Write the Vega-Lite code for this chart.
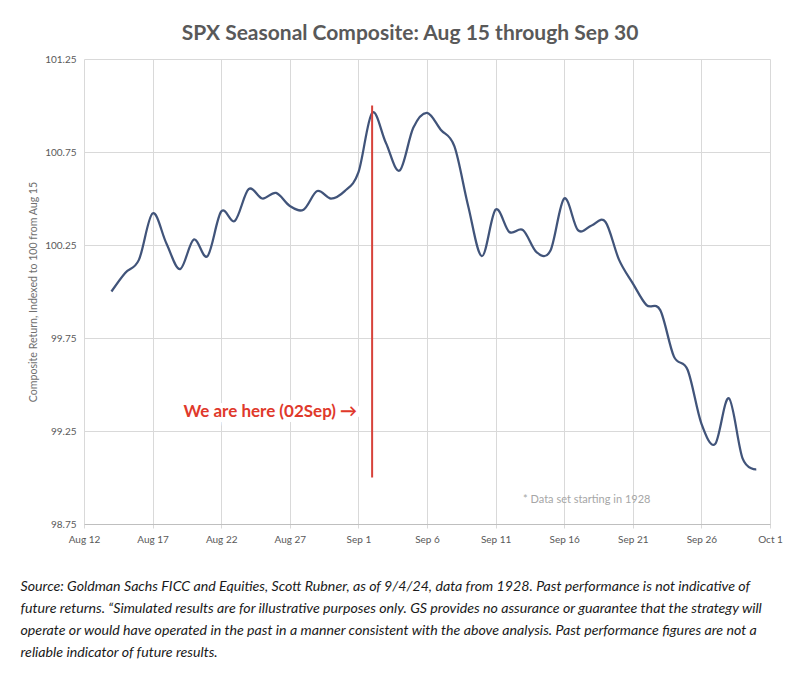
{
  "$schema": "https://vega.github.io/schema/vega-lite/v6.json",
  "width": 686,
  "height": 465,
  "autosize": {"type": "none"},
  "padding": {"left": 84, "top": 59, "right": 30, "bottom": 152},
  "background": "white",
  "config": {"view": {"stroke": null}, "font": "Lato"},
  "title": {
    "text": "SPX Seasonal Composite: Aug 15 through Sep 30",
    "fontSize": 21,
    "fontWeight": "bold",
    "color": "#595959",
    "font": "Lato",
    "anchor": "middle",
    "dx": -17,
    "offset": 10
  },
  "datasets": {
    "series": [
      {"date": "2024-08-14", "value": 100.00},
      {"date": "2024-08-15", "value": 100.10},
      {"date": "2024-08-16", "value": 100.17},
      {"date": "2024-08-17", "value": 100.42},
      {"date": "2024-08-18", "value": 100.26},
      {"date": "2024-08-19", "value": 100.12},
      {"date": "2024-08-20", "value": 100.28},
      {"date": "2024-08-21", "value": 100.19},
      {"date": "2024-08-22", "value": 100.43},
      {"date": "2024-08-23", "value": 100.38},
      {"date": "2024-08-24", "value": 100.55},
      {"date": "2024-08-25", "value": 100.50},
      {"date": "2024-08-26", "value": 100.53},
      {"date": "2024-08-27", "value": 100.46},
      {"date": "2024-08-28", "value": 100.44},
      {"date": "2024-08-29", "value": 100.54},
      {"date": "2024-08-30", "value": 100.50},
      {"date": "2024-08-31", "value": 100.54},
      {"date": "2024-09-01", "value": 100.64},
      {"date": "2024-09-02", "value": 100.96},
      {"date": "2024-09-03", "value": 100.80},
      {"date": "2024-09-04", "value": 100.65},
      {"date": "2024-09-05", "value": 100.88},
      {"date": "2024-09-06", "value": 100.96},
      {"date": "2024-09-07", "value": 100.87},
      {"date": "2024-09-08", "value": 100.78},
      {"date": "2024-09-09", "value": 100.46},
      {"date": "2024-09-10", "value": 100.19},
      {"date": "2024-09-11", "value": 100.44},
      {"date": "2024-09-12", "value": 100.32},
      {"date": "2024-09-13", "value": 100.33},
      {"date": "2024-09-14", "value": 100.21},
      {"date": "2024-09-15", "value": 100.22},
      {"date": "2024-09-16", "value": 100.50},
      {"date": "2024-09-17", "value": 100.33},
      {"date": "2024-09-18", "value": 100.355},
      {"date": "2024-09-19", "value": 100.375},
      {"date": "2024-09-20", "value": 100.17},
      {"date": "2024-09-21", "value": 100.044},
      {"date": "2024-09-22", "value": 99.927},
      {"date": "2024-09-23", "value": 99.90},
      {"date": "2024-09-24", "value": 99.65},
      {"date": "2024-09-25", "value": 99.578},
      {"date": "2024-09-26", "value": 99.29},
      {"date": "2024-09-27", "value": 99.18},
      {"date": "2024-09-28", "value": 99.426},
      {"date": "2024-09-29", "value": 99.103},
      {"date": "2024-09-30", "value": 99.044}
    ],
    "marker": [
      {"date": "2024-09-02", "low": 99.0, "high": 101.0, "label": "We are here (02Sep) →", "labelValue": 99.352}
    ],
    "note": [
      {"date": "2024-09-13", "value": 98.88, "label": "* Data set starting in 1928"}
    ]
  },
  "layer": [
    {
      "data": {"name": "series"},
      "mark": {"type": "line", "interpolate": "cardinal", "color": "#41547A", "strokeWidth": 2.25},
      "encoding": {
        "x": {
          "field": "date",
          "type": "temporal",
          "scale": {"type": "utc", "domain": [{"year": 2024, "month": 8, "date": 12, "utc": true}, {"year": 2024, "month": 10, "date": 1, "utc": true}]},
          "axis": {
            "values": [
              {"year": 2024, "month": 8, "date": 12, "utc": true},
              {"year": 2024, "month": 8, "date": 17, "utc": true},
              {"year": 2024, "month": 8, "date": 22, "utc": true},
              {"year": 2024, "month": 8, "date": 27, "utc": true},
              {"year": 2024, "month": 9, "date": 1, "utc": true},
              {"year": 2024, "month": 9, "date": 6, "utc": true},
              {"year": 2024, "month": 9, "date": 11, "utc": true},
              {"year": 2024, "month": 9, "date": 16, "utc": true},
              {"year": 2024, "month": 9, "date": 21, "utc": true},
              {"year": 2024, "month": 9, "date": 26, "utc": true},
              {"year": 2024, "month": 10, "date": 1, "utc": true}
            ],
            "format": "%b %-d",
            "labelFont": "Lato",
            "labelFontSize": 10,
            "labelColor": "#595959",
            "labelPadding": 6,
            "labelOverlap": false,
            "labelFlush": false,
            "tickColor": "#d9d9d9",
            "tickSize": 4,
            "domainColor": "#bfbfbf",
            "gridColor": "#d9d9d9",
            "grid": true,
            "title": [
              "Source: Goldman Sachs FICC and Equities, Scott Rubner, as of 9/4/24, data from 1928. Past performance is not indicative of",
              "future returns. “Simulated results are for illustrative purposes only. GS provides no assurance or guarantee that the strategy will",
              "operate or would have operated in the past in a manner consistent with the above analysis. Past performance figures are not a",
              "reliable indicator of future results."
            ],
            "titleFont": "Lato",
            "titleFontStyle": "italic",
            "titleFontWeight": "normal",
            "titleFontSize": 14.2,
            "titleColor": "#1a1a1a",
            "titleAlign": "left",
            "titleBaseline": "top",
            "titleLineHeight": 22,
            "titleX": -64,
            "titleY": 55
          }
        },
        "y": {
          "field": "value",
          "type": "quantitative",
          "scale": {"domain": [98.75, 101.25], "zero": false, "nice": false},
          "axis": {
            "values": [98.75, 99.25, 99.75, 100.25, 100.75, 101.25],
            "format": ".2f",
            "labelFont": "Lato",
            "labelFontSize": 10,
            "labelColor": "#595959",
            "labelPadding": 8,
            "ticks": false,
            "domain": false,
            "gridColor": "#d9d9d9",
            "title": "Composite Return, Indexed to 100 from Aug 15",
            "titleFont": "Lato",
            "titleFontSize": 10.6,
            "titleFontWeight": "normal",
            "titleColor": "#707070",
            "titlePadding": 6
          }
        }
      }
    },
    {
      "data": {"name": "marker"},
      "mark": {"type": "rule", "color": "#D7423A", "strokeWidth": 2},
      "encoding": {
        "x": {"field": "date", "type": "temporal"},
        "y": {"field": "low", "type": "quantitative"},
        "y2": {"field": "high"}
      }
    },
    {
      "data": {"name": "marker"},
      "mark": {"type": "text", "color": "white", "stroke": "white", "strokeWidth": 10, "font": "Lato", "fontSize": 17, "fontWeight": "bold", "align": "right", "baseline": "middle", "dx": -15},
      "encoding": {
        "x": {"field": "date", "type": "temporal"},
        "y": {"field": "labelValue", "type": "quantitative"},
        "text": {"field": "label"}
      }
    },
    {
      "data": {"name": "marker"},
      "mark": {"type": "text", "color": "#E0392B", "font": "Lato", "fontSize": 17, "fontWeight": "bold", "align": "right", "baseline": "middle", "dx": -15},
      "encoding": {
        "x": {"field": "date", "type": "temporal"},
        "y": {"field": "labelValue", "type": "quantitative"},
        "text": {"field": "label"}
      }
    },
    {
      "data": {"name": "note"},
      "mark": {"type": "text", "color": "#a6a6a6", "font": "Lato", "fontSize": 11, "align": "left", "baseline": "middle"},
      "encoding": {
        "x": {"field": "date", "type": "temporal"},
        "y": {"field": "value", "type": "quantitative"},
        "text": {"field": "label"}
      }
    }
  ]
}
